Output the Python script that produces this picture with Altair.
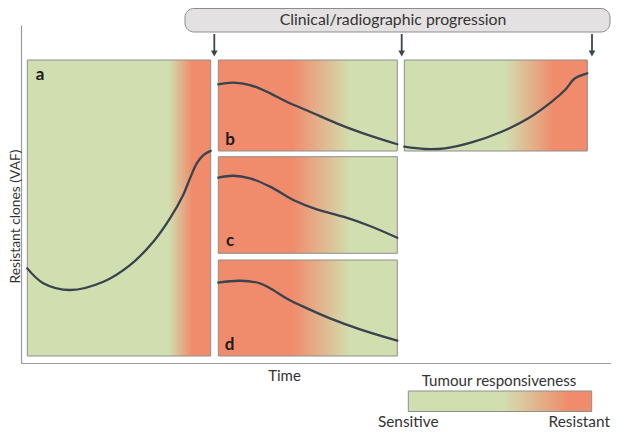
import altair as alt
import pandas as pd

# ---------------- layout of the schematic (frame units: px from left / bottom axis) -------------
panel_names = ["a", "b", "c", "d", "e"]
panel_x0 = [6.3, 197.3, 197.3, 197.3, 383.3]
panel_x1 = [189.7, 376.3, 376.3, 376.3, 566.3]
panel_y0 = [7.0, 212.0, 109.7, 7.0, 212.0]
panel_y1 = [303.0, 303.0, 206.3, 103.0, 303.0]
panel_gradient = ["rise", "fall", "fall", "fall", "late"]

# panel letters (e has none)
label_text = ["a", "b", "c", "d"]
label_x = [19.0, 209.0, 209.0, 208.5]
label_y = [288.0, 223.0, 122.5, 18.5]

# ---------------- curves: time fraction within panel, VAF fraction within panel ----------------
a_t = [0, 0.087, 0.233, 0.415, 0.56, 0.687, 0.778, 0.85, 0.887, 0.924, 0.96, 1.0]
a_v = [0.296, 0.246, 0.223, 0.251, 0.307, 0.386, 0.465, 0.544, 0.6, 0.651, 0.679, 0.693]
b_t = [0, 0.084, 0.177, 0.27, 0.382, 0.512, 0.661, 0.81, 1.0]
b_v = [0.733, 0.751, 0.725, 0.652, 0.542, 0.432, 0.304, 0.194, 0.074]
c_t = [0, 0.084, 0.177, 0.289, 0.419, 0.55, 0.698, 0.847, 1.0]
c_v = [0.783, 0.803, 0.776, 0.69, 0.552, 0.455, 0.379, 0.283, 0.161]
d_t = [0, 0.121, 0.233, 0.289, 0.382, 0.475, 0.624, 0.792, 1.0]
d_v = [0.764, 0.784, 0.757, 0.705, 0.6, 0.514, 0.392, 0.278, 0.16]
e_t = [0, 0.113, 0.222, 0.368, 0.532, 0.678, 0.806, 0.878, 0.933, 1.0]
e_v = [0.047, 0.022, 0.03, 0.095, 0.212, 0.359, 0.542, 0.67, 0.799, 0.854]
curves_t = [a_t, b_t, c_t, d_t, e_t]
curves_v = [a_v, b_v, c_v, d_v, e_v]

# ---------------- progression banner, arrows, legend ----------------
banner_text = "Clinical/radiographic progression"
banner_x = [164.0, 589.0]
banner_y = [331.0, 354.5]
arrow_x = [193.3, 380.7, 571.0]
arrow_top, arrow_bottom, arrow_head = 329.0, 312.0, 309.5

legend_title = "Tumour responsiveness"
legend_x = [387.3, 570.7]
legend_y = [-48.5, -28.0]
legend_labels = ["Sensitive", "Resistant"]

GREEN = "#d1dfb0"
SALMON = "#f08b6b"
LINE = "#38434d"
FONT = "Lato"
TXT = "#333333"

W, H = 590, 338


def grad(stops):
    return alt.Gradient(
        gradient="linear", x1=0, x2=1, y1=0, y2=0,
        stops=[alt.GradientStop(color=c, offset=o) for o, c in stops],
    )


gradients = {
    "rise": grad([(0, GREEN), (0.77, GREEN), (0.9, SALMON), (1, SALMON)]),
    "fall": grad([(0, SALMON), (0.41, SALMON), (0.74, GREEN), (1, GREEN)]),
    "late": grad([(0, GREEN), (0.55, GREEN), (0.82, SALMON), (1, SALMON)]),
    "legend": grad([(0, GREEN), (0.52, GREEN), (0.88, SALMON), (1, SALMON)]),
}

xaxis = alt.Axis(
    title="Time", domain=True, domainColor="#9c9c9c", domainWidth=1.2,
    ticks=False, labels=False, grid=False,
    titleFont=FONT, titleFontSize=15, titleFontWeight="normal", titleColor=TXT,
    titleX=263, titleY=17, titleBaseline="alphabetic", titleAlign="center",
)
yaxis = alt.Axis(
    title="Resistant clones (VAF)", domain=True, domainColor="#9c9c9c", domainWidth=1.2,
    ticks=False, labels=False, grid=False,
    titleFont=FONT, titleFontSize=13.8, titleFontWeight="normal", titleColor=TXT,
    titleAngle=270, titleX=-2.0, titleY=191, titleBaseline="alphabetic", titleAlign="center",
)
xs = alt.Scale(domain=[0, W], nice=False, zero=False)
ys = alt.Scale(domain=[0, H], nice=False, zero=False)


def X(f):
    return alt.X(f, type="quantitative", scale=xs, axis=xaxis)


def Y(f):
    return alt.Y(f, type="quantitative", scale=ys, axis=yaxis)


panels = pd.DataFrame({
    "panel": panel_names, "x0": panel_x0, "x1": panel_x1,
    "y0": panel_y0, "y1": panel_y1, "grad": panel_gradient,
})

layers = []
for g in ["rise", "fall", "late"]:
    sub = panels[panels["grad"] == g]
    layers.append(
        alt.Chart(sub).mark_rect(fill=gradients[g], stroke="#8e8e8e", strokeWidth=1)
        .encode(x=X("x0"), x2="x1", y=Y("y0"), y2="y1")
    )

rows = []
for name, x0, x1, y0, y1, ts, vs in zip(panel_names, panel_x0, panel_x1, panel_y0, panel_y1,
                                         curves_t, curves_v):
    for i, (t, v) in enumerate(zip(ts, vs)):
        rows.append({"panel": name, "i": i, "x": x0 + t * (x1 - x0), "y": y0 + v * (y1 - y0)})
curves = pd.DataFrame(rows)
layers.append(
    alt.Chart(curves).mark_line(color=LINE, strokeWidth=2.3, interpolate="catmull-rom", strokeCap="round")
    .encode(x=X("x"), y=Y("y"), detail="panel:N", order="i:Q")
)

labels = pd.DataFrame({"t": label_text, "x": label_x, "y": label_y})
layers.append(
    alt.Chart(labels).mark_text(font=FONT, fontSize=17, fontWeight="bold", color="#1c1c1c",
                                align="center", baseline="middle")
    .encode(x=X("x"), y=Y("y"), text="t:N")
)

banner = pd.DataFrame({"x0": [banner_x[0]], "x1": [banner_x[1]], "y0": [banner_y[0]],
                       "y1": [banner_y[1]], "t": [banner_text],
                       "xc": [(banner_x[0] + banner_x[1]) / 2 - 4.5],
                       "yc": [(banner_y[0] + banner_y[1]) / 2]})
layers.append(
    alt.Chart(banner).mark_rect(fill="#e3e1e1", stroke="#8c8c8c", strokeWidth=1, cornerRadius=9)
    .encode(x=X("x0"), x2="x1", y=Y("y0"), y2="y1")
)
layers.append(
    alt.Chart(banner).mark_text(font=FONT, fontSize=15.8, color=TXT,
                                align="center", baseline="middle")
    .encode(x=X("xc"), y=Y("yc"), text="t:N")
)

arrows = pd.DataFrame({"x": arrow_x, "top": [arrow_top] * 3, "bot": [arrow_bottom] * 3,
                       "head": [arrow_head] * 3})
layers.append(
    alt.Chart(arrows).mark_rule(color="#3d4650", strokeWidth=1.8)
    .encode(x=X("x"), y=Y("top"), y2="bot")
)
layers.append(
    alt.Chart(arrows).mark_point(shape="triangle-down", filled=True, size=45, color="#3d4650", opacity=1)
    .encode(x=X("x"), y=Y("head"))
)

legend = pd.DataFrame({"x0": [legend_x[0]], "x1": [legend_x[1]], "y0": [legend_y[0]],
                       "y1": [legend_y[1]]})
layers.append(
    alt.Chart(legend).mark_rect(fill=gradients["legend"], stroke="#8e8e8e", strokeWidth=1)
    .encode(x=X("x0"), x2="x1", y=Y("y0"), y2="y1")
)
ltitle = pd.DataFrame({"t": [legend_title], "x": [(legend_x[0] + legend_x[1]) / 2 - 1],
                       "y": [legend_y[1] + 5.0]})
layers.append(
    alt.Chart(ltitle).mark_text(font=FONT, fontSize=15.1, color=TXT,
                                align="center", baseline="alphabetic")
    .encode(x=X("x"), y=Y("y"), text="t:N")
)
llab = pd.DataFrame({"t": legend_labels, "x": [legend_x[0], W - 1], "y": [-63.5, -63.5],
                     "al": ["center", "right"]})
layers.append(
    alt.Chart(llab[llab["al"] == "center"]).mark_text(font=FONT, fontSize=15.4, color=TXT,
                                                      align="center", baseline="alphabetic")
    .encode(x=X("x"), y=Y("y"), text="t:N")
)
layers.append(
    alt.Chart(llab[llab["al"] == "right"]).mark_text(font=FONT, fontSize=15.4, color=TXT,
                                                     align="right", baseline="alphabetic")
    .encode(x=X("x"), y=Y("y"), text="t:N")
)

chart = (
    alt.layer(*layers)
    .properties(width=W, height=H, autosize=alt.AutoSizeParams(type="none"),
                padding={"left": 13, "top": 17, "right": 0, "bottom": 68})
    .configure_view(strokeWidth=0)
)

chart.save("out.html", embed_options={"renderer": "svg", "actions": False})
